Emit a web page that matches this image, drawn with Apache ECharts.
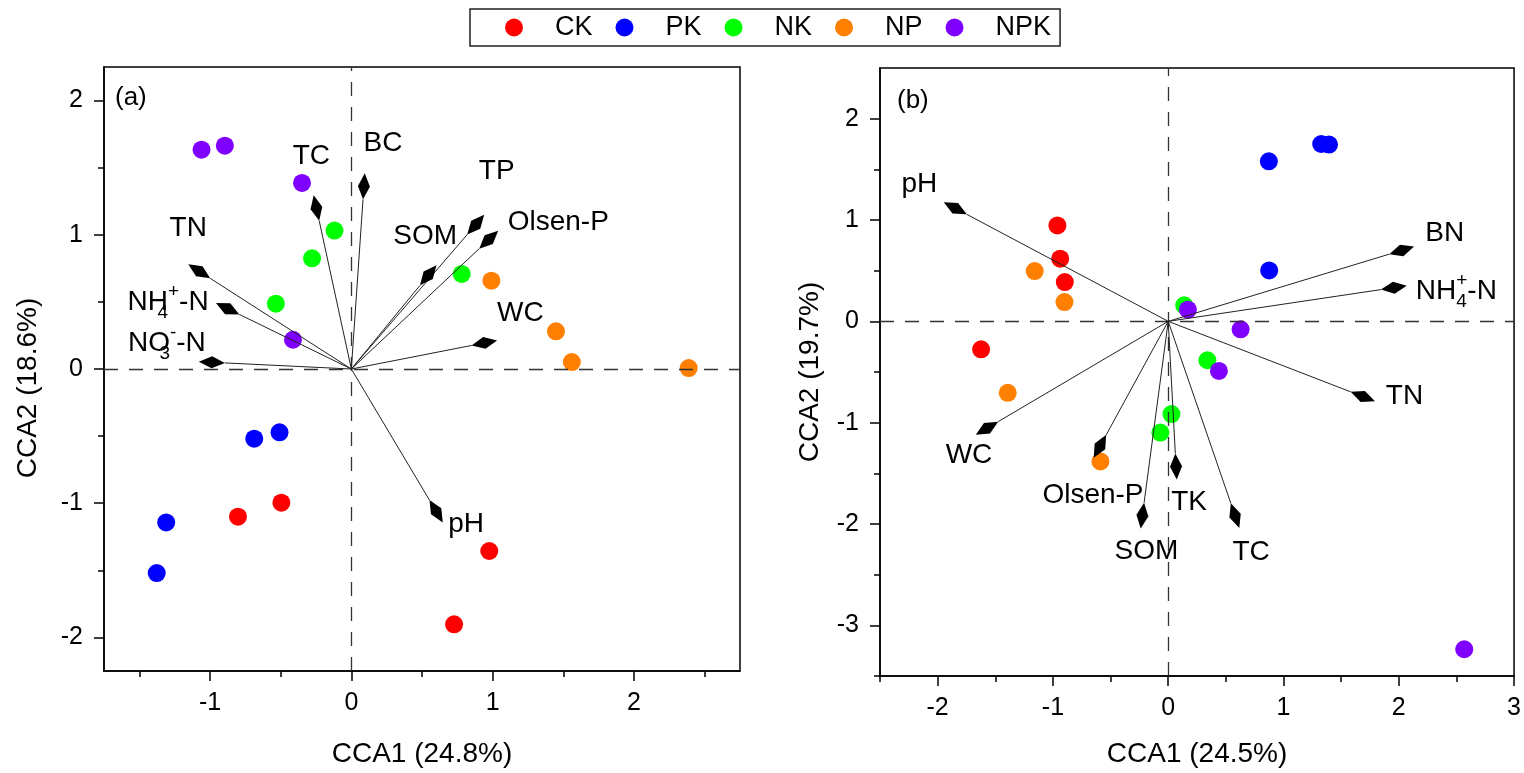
<!DOCTYPE html>
<html>
<head>
<meta charset="utf-8">
<script src="https://cdn.jsdelivr.net/npm/echarts@6/dist/echarts.min.js"></script>
<style>
html,body{margin:0;padding:0;background:#fff;}
#c{width:1524px;height:773px;}
</style>
</head>
<body>
<div id="c"></div>
<script>
// ---------------- DATA ----------------
const groups = ['CK', 'PK', 'NK', 'NP', 'NPK'];

// Panel (a) sample scores
const ckA  = [[-0.802, -1.100], [-0.495, -0.996], [0.976, -1.356], [0.727, -1.902]];
const pkA  = [[-0.687, -0.519], [-0.508, -0.472], [-1.310, -1.143], [-1.377, -1.520]];
const nkA  = [[-0.119, 1.031], [-0.278, 0.825], [-0.534, 0.487], [0.781, 0.708]];
const npA  = [[0.991, 0.658], [1.448, 0.281], [1.560, 0.052], [2.387, 0.007]];
const npkA = [[-1.060, 1.634], [-0.895, 1.664], [-0.349, 1.386], [-0.413, 0.218]];

// Panel (a) environmental vectors
const envNamesA = ['BC', 'TC', 'TP', 'Olsen-P', 'SOM', 'TN', 'NH4+-N', 'NO3--N', 'WC', 'pH'];
const envA = [[0.089, 1.361], [-0.247, 1.200], [0.880, 1.075], [0.972, 0.963], [0.544, 0.698],
              [-1.076, 0.728], [-0.875, 0.449], [-0.987, 0.050], [0.941, 0.194], [0.600, -1.060]];

// Panel (b) sample scores
const ckB  = [[-0.961, 0.946], [-0.937, 0.618], [-0.897, 0.387], [-1.623, -0.276]];
const pkB  = [[0.873, 1.579], [1.327, 1.750], [1.395, 1.744], [0.876, 0.502]];
const nkB  = [[0.139, 0.158], [0.340, -0.384], [0.028, -0.915], [-0.068, -1.098]];
const npB  = [[-1.158, 0.496], [-0.900, 0.190], [-1.392, -0.705], [-0.588, -1.383]];
const npkB = [[0.171, 0.115], [0.628, -0.079], [0.440, -0.490], [2.568, -3.236]];

// Panel (b) environmental vectors
const envNamesB = ['pH', 'BN', 'NH4+-N', 'TN', 'WC', 'Olsen-P', 'TK', 'SOM', 'TC'];
const envB = [[-1.847, 1.116], [2.025, 0.700], [1.957, 0.332], [1.688, -0.742], [-1.572, -1.055],
              [-0.592, -1.233], [0.068, -1.433], [-0.224, -1.917], [0.580, -1.917]];

// Axis ranges and tick values
const xRangeA = [-1.75, 2.75], yRangeA = [-2.25, 2.25];
const xRangeB = [-2.5, 3], yRangeB = [-3.5, 2.5];
const xMajorA = [-1, 0, 1, 2], xMinorA = [-1.5, -0.5, 0.5, 1.5, 2.5];
const yMajorA = [-2, -1, 0, 1, 2], yMinorA = [-1.5, -0.5, 0.5, 1.5];
const xMajorB = [-2, -1, 0, 1, 2, 3], xMinorB = [-2.5, -1.5, -0.5, 0.5, 1.5, 2.5];
const yMajorB = [-3, -2, -1, 0, 1, 2], yMinorB = [-3.5, -2.5, -1.5, -0.5, 0.5, 1.5];
const axisTitles = ['CCA1 (24.8%)', 'CCA2 (18.6%)', 'CCA1 (24.5%)', 'CCA2 (19.7%)'];
const panelLabels = ['(a)', '(b)'];

// ---------------- STYLE ----------------
const FONT = 'Liberation Sans, Arial, sans-serif';
const colors = ['#FF0000', '#0000FF', '#00FF00', '#FF8000', '#8000FF'];
// label placement relative to arrow head (px): dx, dy, align
const labelOffA = [[19, -43, 'center'], [-5, -52, 'center'], [21, -53, 'center'], [19, -17, 'left'],
                   [-3, -39, 'center'], [-11, -43, 'center'], [-19, -6, 'right'], [-6, -19, 'right'],
                   [36, -30, 'center'], [12, 13, 'left']];
const labelOffB = [[-36, -24, 'center'], [43, -17, 'center'], [22, 4, 'left'], [23, 0, 'left'],
                   [-18, 27, 'center'], [-7, 49, 'center'], [13, 36, 'center'], [4, 36, 'center'],
                   [16, 37, 'center']];

const richStyles = {
  m: { fontSize: 28, fontFamily: FONT, color: '#000', lineHeight: 40 },
  sb: { fontSize: 19, fontFamily: FONT, color: '#000', lineHeight: 16, verticalAlign: 'bottom', width: 0 },
  sp: { fontSize: 19, fontFamily: FONT, color: '#000', lineHeight: 16, verticalAlign: 'top' }
};
function richName(n) {
  if (n === 'NH4+-N') return '{m|NH}{sb|4}{sp|+}{m|-N}';
  if (n === 'NO3--N') return '{m|NO}{sb|3}{sp|-}{m|-N}';
  return '{m|' + n + '}';
}

function arrowSeries(g, vecs, names, offs) {
  return {
    type: 'custom', xAxisIndex: g * 2, yAxisIndex: g * 2, z: 6, silent: true, clip: false,
    data: vecs,
    renderItem: function (params, api) {
      const i = params.dataIndex;
      const p0 = api.coord([0, 0]);
      const p1 = api.coord([api.value(0), api.value(1)]);
      const dx = p1[0] - p0[0], dy = p1[1] - p0[1];
      const L = Math.sqrt(dx * dx + dy * dy);
      const ux = dx / L, uy = dy / L, nx = -uy, ny = ux;
      const hl = 13, hw = 6;
      const pts = [[p1[0] + ux * hl, p1[1] + uy * hl], [p1[0] + nx * hw, p1[1] + ny * hw],
                   [p1[0] - ux * hl, p1[1] - uy * hl], [p1[0] - nx * hw, p1[1] - ny * hw]];
      const o = offs[i];
      return {
        type: 'group',
        children: [
          { type: 'line', shape: { x1: p0[0], y1: p0[1], x2: p1[0] - ux * hl, y2: p1[1] - uy * hl },
            style: { stroke: '#222', lineWidth: 1 } },
          { type: 'polygon', shape: { points: pts }, style: { fill: '#000' } },
          { type: 'text', x: p1[0] + o[0], y: p1[1] + o[1],
            style: { text: richName(names[i]), rich: richStyles, fontSize: 28, fontFamily: FONT,
                     fill: '#000', align: o[2], verticalAlign: 'middle' } }
        ]
      };
    }
  };
}

function scatterSeries(g, name, data, color) {
  return {
    type: 'scatter', name: name, xAxisIndex: g * 2, yAxisIndex: g * 2, z: 4,
    data: data, symbol: 'circle', symbolSize: 18,
    itemStyle: { color: color, opacity: 1 }, silent: true
  };
}

function zeroLines(g) {
  return {
    type: 'scatter', xAxisIndex: g * 2, yAxisIndex: g * 2, data: [], z: 2, silent: true,
    markLine: {
      silent: true, symbol: 'none', animation: false,
      label: { show: false },
      lineStyle: { color: '#333', width: 1.3, type: [14, 11] },
      data: [{ xAxis: 0 }, { yAxis: 0 }]
    }
  };
}

function xAxes(g, range, major, minor, title, gap) {
  return [
    { gridIndex: g, type: 'value', position: 'bottom', min: range[0], max: range[1],
      name: title, nameLocation: 'middle', nameGap: gap,
      nameTextStyle: { fontSize: 28, fontFamily: FONT, color: '#000' },
      axisLine: { show: true, onZero: false, lineStyle: { color: '#000', width: 1.5 } },
      axisTick: { show: true, inside: false, length: 10, customValues: major, lineStyle: { color: '#000', width: 1.5 } },
      axisLabel: { show: true, customValues: major, fontSize: 25, fontFamily: FONT, color: '#000', margin: 20 },
      splitLine: { show: false } },
    { gridIndex: g, type: 'value', position: 'bottom', min: range[0], max: range[1],
      axisLine: { show: false, onZero: false },
      axisTick: { show: true, inside: false, length: 6, customValues: minor, lineStyle: { color: '#000', width: 1.5 } },
      axisLabel: { show: false }, splitLine: { show: false } }
  ];
}
function yAxes(g, range, major, minor, title, gap, shift) {
  return [
    { gridIndex: g, type: 'value', position: 'left', min: range[0], max: range[1],
      name: title, nameLocation: 'middle', nameGap: gap,
      nameTextStyle: { fontSize: 28, fontFamily: FONT, color: '#000', padding: [0, shift, 0, 0] },
      axisLine: { show: true, onZero: false, lineStyle: { color: '#000', width: 1.5 } },
      axisTick: { show: true, inside: false, length: 10, customValues: major, lineStyle: { color: '#000', width: 1.5 } },
      axisLabel: { show: true, customValues: major, fontSize: 25, fontFamily: FONT, color: '#000', margin: 21 },
      splitLine: { show: false } },
    { gridIndex: g, type: 'value', position: 'left', min: range[0], max: range[1],
      axisLine: { show: false, onZero: false },
      axisTick: { show: true, inside: false, length: 6, customValues: minor, lineStyle: { color: '#000', width: 1.5 } },
      axisLabel: { show: false }, splitLine: { show: false } }
  ];
}

const dataA = [ckA, pkA, nkA, npA, npkA];
const dataB = [ckB, pkB, nkB, npB, npkB];

const series = [zeroLines(0), zeroLines(1)];
groups.forEach((g, i) => series.push(scatterSeries(0, g, dataA[i], colors[i])));
groups.forEach((g, i) => series.push(scatterSeries(1, g, dataB[i], colors[i])));
series.push(arrowSeries(0, envA, envNamesA, labelOffA));
series.push(arrowSeries(1, envB, envNamesB, labelOffB));

const option = {
  backgroundColor: '#fff',
  animation: false,
  title: [
    { text: panelLabels[0], left: 110, top: 80, textStyle: { fontSize: 26, fontWeight: 'normal', color: '#000', fontFamily: FONT } },
    { text: panelLabels[1], left: 892, top: 83, textStyle: { fontSize: 26, fontWeight: 'normal', color: '#000', fontFamily: FONT } }
  ],
  legend: {
    data: groups, left: 470, top: 9, orient: 'horizontal', icon: 'circle',
    itemWidth: 18, itemHeight: 18, itemGap: 23, padding: [5, 9, 5, 35],
    borderColor: '#222', borderWidth: 1.5, selectedMode: false,
    formatter: '{s| }{t|{name}}',
    textStyle: {
      fontSize: 27, color: '#000', fontFamily: FONT,
      rich: { s: { width: 27 }, t: { fontSize: 27, fontFamily: FONT, color: '#000', lineHeight: 30 } }
    }
  },
  grid: [
    { left: 104, top: 67, width: 636, height: 606, show: true, borderColor: '#000', borderWidth: 1.5, backgroundColor: 'transparent' },
    { left: 880, top: 68, width: 635, height: 610, show: true, borderColor: '#000', borderWidth: 1.5, backgroundColor: 'transparent' }
  ],
  xAxis: [].concat(xAxes(0, xRangeA, xMajorA, xMinorA, axisTitles[0], 69), xAxes(1, xRangeB, xMajorB, xMinorB, axisTitles[2], 64)),
  yAxis: [].concat(yAxes(0, yRangeA, yMajorA, yMinorA, axisTitles[1], 62, 38), yAxes(1, yRangeB, yMajorB, yMinorB, axisTitles[3], 56, 0)),
  series: series
};

const chart = echarts.init(document.getElementById('c'), null, { renderer: 'canvas' });
chart.setOption(option);
</script>
</body>
</html>
